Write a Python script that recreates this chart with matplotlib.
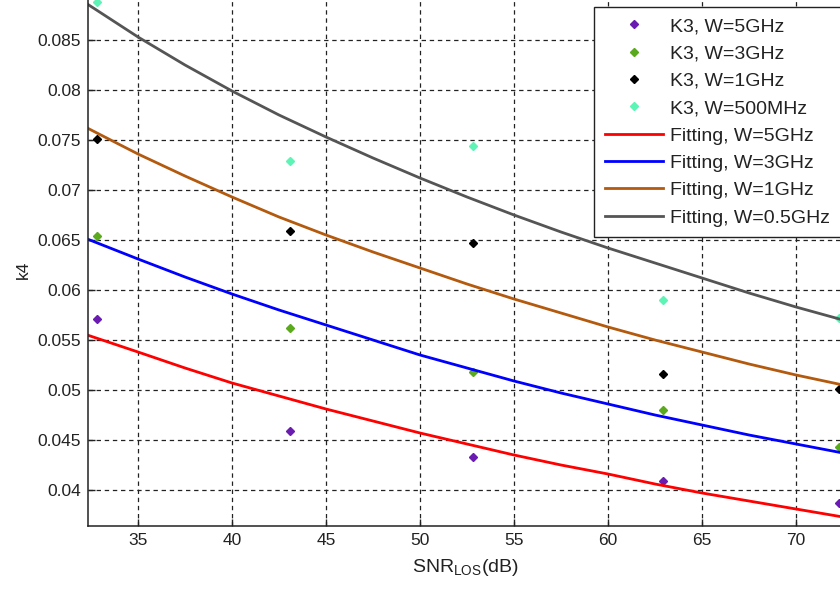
import matplotlib
matplotlib.use("Agg")
import matplotlib.pyplot as plt
from matplotlib.ticker import FuncFormatter

plt.rcParams['font.family'] = ['Liberation Sans', 'DejaVu Sans']

# measured points (K3)
snr_pts = [32.8, 43.1, 52.8, 62.9, 72.3]
k_5ghz = [0.0571, 0.0459, 0.0433, 0.0409, 0.0387]
k_3ghz = [0.0654, 0.0562, 0.0518, 0.0480, 0.0443]
k_1ghz = [0.0751, 0.0659, 0.0647, 0.0516, 0.0501]
k_500mhz = [0.0888, 0.0729, 0.0744, 0.0590, 0.0572]

# fitting curves
snr_fit = [32.3, 35, 37.5, 40, 42.5, 45, 47.5, 50, 52.5, 55, 57.5, 60, 62.5, 65, 67.5, 70, 72.5, 75]
fit_5ghz = [0.0555, 0.0538, 0.0522, 0.0507, 0.0494, 0.0481, 0.0469, 0.0457, 0.0446, 0.0435,
            0.0425, 0.0416, 0.0406, 0.0397, 0.0389, 0.0381, 0.0373, 0.0366]
fit_3ghz = [0.0651, 0.0631, 0.0613, 0.0596, 0.0580, 0.0565, 0.0550, 0.0535, 0.0522, 0.0509,
            0.0497, 0.0486, 0.0475, 0.0465, 0.0455, 0.0446, 0.0437, 0.0429]
fit_1ghz = [0.0762, 0.0736, 0.0714, 0.0693, 0.0673, 0.0655, 0.0638, 0.0622, 0.0606, 0.0591,
            0.0577, 0.0563, 0.0550, 0.0538, 0.0526, 0.0515, 0.0505, 0.0495]
fit_05ghz = [0.0886, 0.0853, 0.0825, 0.0799, 0.0775, 0.0753, 0.0732, 0.0712, 0.0693, 0.0675,
             0.0658, 0.0642, 0.0627, 0.0612, 0.0597, 0.0583, 0.0570, 0.0557]

x_ticks = [35, 40, 45, 50, 55, 60, 65, 70, 75]
y_ticks = [0.04, 0.045, 0.05, 0.055, 0.06, 0.065, 0.07, 0.075, 0.08, 0.085, 0.09]

W, H = 840, 590
fig = plt.figure(figsize=(W / 100, H / 100), dpi=100)
fig.patch.set_facecolor('white')

xmin, xmax = 32.34, 75.0
ymin, ymax = 0.0364, 0.092
px_per_x = 18.8
px_per_y = 10000.0
left_px, bottom_px = 88, 526
ax_w_px = (xmax - xmin) * px_per_x
ax_h_px = (ymax - ymin) * px_per_y
ax = fig.add_axes([left_px / W, (H - bottom_px) / H, ax_w_px / W, ax_h_px / H])

c_purple = '#6A1BB0'
c_green = '#5BAA1E'
c_black = '#000000'
c_cyan = '#5CF5B5'

mk = dict(marker='D', markersize=4, linestyle='none')
ax.plot(snr_pts, k_5ghz, color=c_purple, label='K3, W=5GHz', **mk)
ax.plot(snr_pts, k_3ghz, color=c_green, label='K3, W=3GHz', **mk)
ax.plot(snr_pts, k_1ghz, color=c_black, label='K3, W=1GHz', **mk)
ax.plot(snr_pts, k_500mhz, color=c_cyan, label='K3, W=500MHz', **mk)

ax.plot(snr_fit, fit_5ghz, color='#FF0000', lw=2, label='Fitting, W=5GHz')
ax.plot(snr_fit, fit_3ghz, color='#0000FF', lw=2, label='Fitting, W=3GHz')
ax.plot(snr_fit, fit_1ghz, color='#B35A0E', lw=2, label='Fitting, W=1GHz')
ax.plot(snr_fit, fit_05ghz, color='#555555', lw=2, label='Fitting, W=0.5GHz')

ax.set_xlim(xmin, xmax)
ax.set_ylim(ymin, ymax)
ax.set_xticks(x_ticks)
ax.set_yticks(y_ticks)
ax.yaxis.set_major_formatter(FuncFormatter(lambda v, p: '%g' % v))
ax.tick_params(direction='in', length=5, width=1, labelsize=12.5,
               colors='#222222', labelcolor='#222222', pad=5)
ax.grid(True, color='#222222', linestyle=(0, (3.5, 3)), linewidth=0.9)
for s in ax.spines.values():
    s.set_color('#222222')
    s.set_linewidth(1.1)

ax.set_ylabel('k4', fontsize=12.5, color='#222222')
ax.set_xlabel('SNR$_{\\mathregular{LOS}}$(dB)', fontsize=14, color='#222222')
ax.xaxis.set_label_coords((465 - left_px) / ax_w_px, (bottom_px - 557) / ax_h_px)
ax.yaxis.set_label_coords((31 - left_px) / ax_w_px, (bottom_px - 270) / ax_h_px)

leg = fig.legend(loc='upper left', bbox_to_anchor=(594 / W, 1 - 7 / H),
                 fontsize=14, frameon=True, fancybox=False, shadow=False,
                 borderaxespad=0, handlelength=3.0, handletextpad=0.35,
                 labelspacing=0.5, borderpad=0.55, markerscale=1.0)
leg.get_frame().set_edgecolor('#222222')
leg.get_frame().set_linewidth(1.0)
leg.get_frame().set_alpha(1)
for t in leg.get_texts():
    t.set_color('#222222')

fig.savefig('out.png', dpi=100, facecolor='white')
